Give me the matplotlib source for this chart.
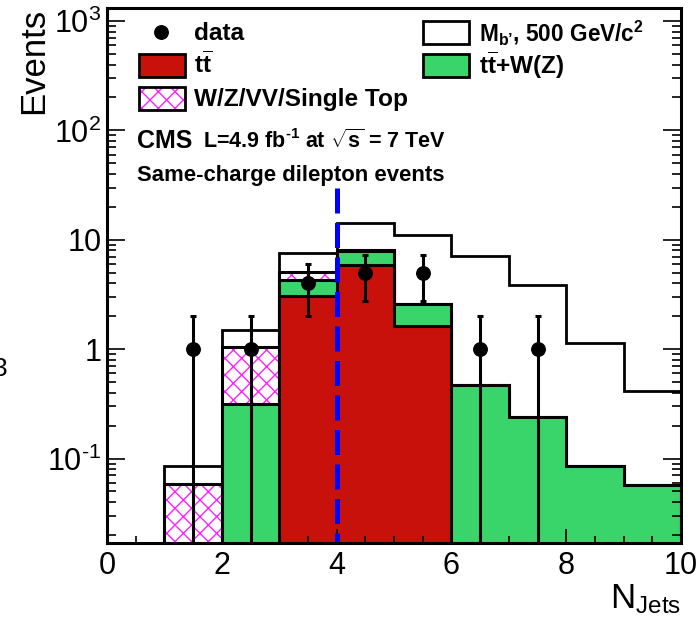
import numpy as np
import matplotlib
matplotlib.use("Agg")
import matplotlib.pyplot as plt
from matplotlib.patches import Rectangle
from matplotlib.lines import Line2D
from matplotlib.ticker import FixedLocator, FixedFormatter, NullFormatter, LogLocator

plt.rcParams['font.family'] = ['Liberation Sans', 'DejaVu Sans']
plt.rcParams['mathtext.fontset'] = 'custom'
plt.rcParams['mathtext.rm'] = 'Liberation Sans'
plt.rcParams['mathtext.it'] = 'Liberation Sans:italic'
plt.rcParams['mathtext.bf'] = 'Liberation Sans:bold'
plt.rcParams['hatch.linewidth'] = 1.0

# ---- jet multiplicity histogram contents ----
bin_edges = np.arange(0, 11)
bin_centers = bin_edges[:-1] + 0.5

ttbar = np.array([0, 0, 0, 3.05, 5.85, 1.64, 0, 0, 0, 0])
ttbar_wz = np.array([0, 0, 0.315, 1.22, 2.06, 0.94, 0.469, 0.241, 0.0855, 0.0573])
ewk_single_top = np.array([0, 0.0585, 0.735, 0.81, 0.15, 0, 0, 0, 0, 0])
bprime_500 = np.array([0, 0.027, 0.46, 2.5, 6.19, 8.52, 6.6, 3.6, 1.05, 0.353])
data_counts = np.array([0, 1, 1, 4, 5, 5, 1, 1, 0, 0])

cut_njets = 4
cut_line_top = 30

x_ticks = [0, 2, 4, 6, 8, 10]
y_ticks = [0.1, 1, 10, 100, 1000]
y_tick_labels = ["10$^{\u2010\\mathrm{1}}$", "1", "10", r"10$^{2}$", r"10$^{3}$"]
y_min, y_max = 0.0169, 1315

# ---- colours ----
red = '#C8110A'
green = '#39D46A'
magenta = '#FF22FF'
blue = '#0000FF'

W, H = 698, 624
fig = plt.figure(figsize=(W / 100, H / 100), dpi=100)


def fx(px):
    return px / W


def fy(py):
    return 1 - py / H


ax = fig.add_axes([fx(107), fy(543), fx(681) - fx(107), fy(8) - fy(543)])
ax.set_yscale('log')
ax.set_xlim(0, 10)
ax.set_ylim(y_min, y_max)

# ---- stacked histograms (drawn from the top of the stack down) ----
floor = 1e-6


def clip(v):
    return np.where(v > 0, v, floor)


cum_tt = ttbar
cum_ttv = cum_tt + ttbar_wz
cum_ewk = cum_ttv + ewk_single_top
cum_sig = cum_ewk + bprime_500
lw_hist = 2.2

ax.stairs(clip(cum_sig), bin_edges, baseline=floor, fill=True, facecolor='white',
          edgecolor='black', linewidth=2.0, zorder=1.0)
ax.stairs(clip(cum_ewk), bin_edges, baseline=floor, fill=True, facecolor='white',
          edgecolor=magenta, hatch='xx', linewidth=0, zorder=1.1)
ax.stairs(clip(cum_ewk), bin_edges, baseline=floor, fill=False,
          edgecolor='black', linewidth=lw_hist, zorder=1.2)
ax.stairs(clip(cum_ttv), bin_edges, baseline=floor, fill=True, facecolor=green,
          edgecolor='black', linewidth=lw_hist, zorder=1.3)
ax.stairs(clip(cum_tt), bin_edges, baseline=floor, fill=True, facecolor=red,
          edgecolor='black', linewidth=lw_hist, zorder=1.4)

# ---- selection cut ----
ax.plot([cut_njets, cut_njets], [cut_line_top, y_min], color=blue, lw=3.6,
        dashes=(5, 1.9), solid_capstyle='butt', dash_capstyle='butt', zorder=3)

# ---- data points with Poisson errors ----
mask = data_counts > 0
n_obs = data_counts[mask]
err = np.sqrt(n_obs)
err_lo = np.minimum(err, n_obs - floor)
ax.errorbar(bin_centers[mask], n_obs, yerr=[err_lo, err], fmt='o', color='black',
            ms=9.7, elinewidth=2.2, capsize=2.2, capthick=2.2, zorder=5)

# ---- axes styling ----
ax.xaxis.set_major_locator(FixedLocator(x_ticks))
ax.xaxis.set_minor_locator(FixedLocator(np.arange(0, 10.01, 0.5)))
ax.set_xticklabels([str(t) for t in x_ticks])
ax.yaxis.set_major_locator(FixedLocator(y_ticks))
ax.yaxis.set_major_formatter(FixedFormatter(y_tick_labels))
ax.yaxis.set_minor_locator(LogLocator(base=10, subs=np.arange(2, 10), numticks=20))
ax.yaxis.set_minor_formatter(NullFormatter())

ax.tick_params(axis='x', which='major', direction='in', length=10, width=1.2,
               labelsize=22, pad=6, top=False)
ax.tick_params(axis='x', which='minor', direction='in', length=5, width=1.2, top=False)
ax.tick_params(axis='y', which='major', direction='in', length=13, width=1.2,
               labelsize=22, pad=4, right=True)
ax.tick_params(axis='y', which='minor', direction='in', length=6.5, width=1.2, right=True)
for s in ax.spines.values():
    s.set_linewidth(2.2)
    s.set_zorder(10)
ax.set_axisbelow(False)

# ---- axis titles ----
fig.text(fx(34), fy(8), "Events", rotation=90, ha='center', va='top', fontsize=25)
fig.text(fx(681), fy(608), r"N$_{\mathrm{Jets}}$", ha='right', va='baseline', fontsize=25)
fig.text(fx(8), fy(376), "3", ha='right', va='baseline', fontsize=19)

# ---- legend ----
leg_fs = 17.6
bw, bh = 46, 23


def legend_box(x0, y0, **kw):
    r = Rectangle((fx(x0), fy(y0 + bh)), fx(x0 + bw) - fx(x0), fy(y0) - fy(y0 + bh),
                  transform=fig.transFigure, **kw)
    fig.add_artist(r)


fig.add_artist(Line2D([fx(161)], [fy(32)], marker='o', ms=9.7, color='black',
                      transform=fig.transFigure))
fig.text(fx(194), fy(40), "data", fontsize=leg_fs, fontweight='bold', va='baseline')

legend_box(139, 54, facecolor=red, edgecolor='black', linewidth=2.0)
fig.text(fx(194), fy(74), r"$\mathbf{t}\overline{\mathbf{t}}$", fontsize=leg_fs,
         fontweight='bold', va='baseline')

legend_box(139, 87, facecolor='white', edgecolor=magenta, hatch='xx', linewidth=0)
legend_box(139, 87, facecolor='none', edgecolor='black', linewidth=2.0)
fig.text(fx(194), fy(106), "W/Z/VV/Single Top", fontsize=leg_fs, fontweight='bold',
         va='baseline')

legend_box(423, 21, facecolor='white', edgecolor='black', linewidth=2.0)
fig.text(fx(479), fy(41), r"M$_{\mathbf{b’}}$, 500 GeV/c$^{\mathbf{2}}$", fontsize=16.3,
         fontweight='bold', va='baseline')

legend_box(423, 54, facecolor=green, edgecolor='black', linewidth=2.0)
fig.text(fx(479), fy(74), r"$\mathbf{t}\overline{\mathbf{t}}$+W(Z)", fontsize=leg_fs,
         fontweight='bold', va='baseline')

# ---- experiment labels ----
fig.text(fx(137), fy(148), "CMS", fontsize=18, fontweight='bold', va='baseline')
fig.text(fx(203), fy(148), "L=4.9 fb$^{\\mathbf{\u20101}}$ at $\\sqrt{\\mathbf{s}}$ = 7 TeV",
         fontsize=15.5, fontweight='bold', va='baseline')
fig.text(fx(137), fy(181), "Same-charge dilepton events", fontsize=15.9,
         fontweight='bold', va='baseline')

fig.savefig("out.png", dpi=100)
